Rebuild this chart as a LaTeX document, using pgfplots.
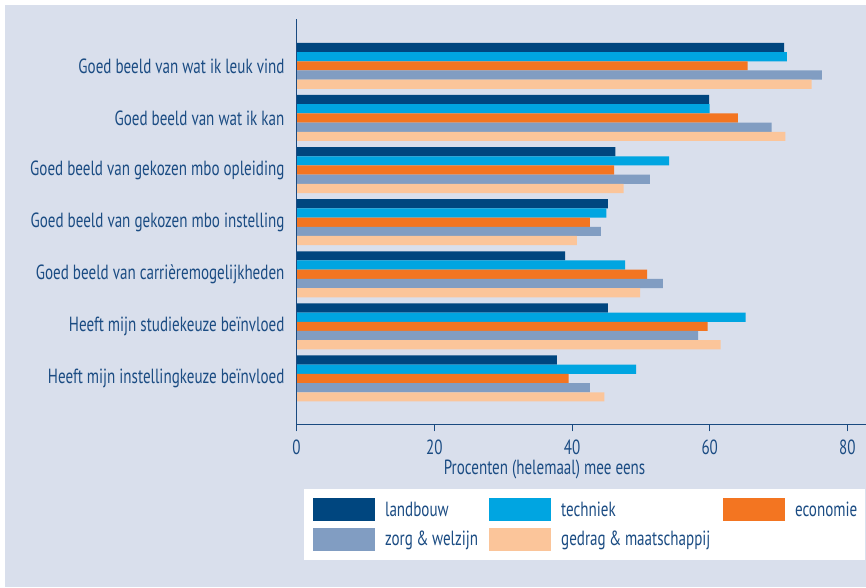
\documentclass[border=0pt]{standalone}
\usepackage{fontspec}
\setmainfont{PT Sans}[FakeStretch=0.735]
\usepackage{pgfplots}
\pgfplotsset{compat=1.18}
\definecolor{clandbouw}{HTML}{00467F}
\definecolor{ctechniek}{HTML}{00A5E1}
\definecolor{ceconomie}{HTML}{F37521}
\definecolor{czorg}{HTML}{819DC2}
\definecolor{cgedrag}{HTML}{FBC59A}
\definecolor{bgcol}{HTML}{D9DFEC}
\definecolor{gridcol}{HTML}{D3DAEA}
\definecolor{txtcol}{HTML}{1B4C83}
\definecolor{axcol}{HTML}{1A4A80}
\newcommand\cf{\fontsize{20.5pt}{23pt}\selectfont}
\pgfplotsset{
  layers/mylayers/.define layer set={axis background,axis grid,main,axis ticks,axis lines,axis tick labels,axis descriptions,axis foreground}{/pgfplots/layers/standard},
}
\begin{document}
\begin{tikzpicture}
\fill[white] (0,0) rectangle (866pt,587pt);
\fill[bgcol] (5pt,0) rectangle (866pt,582pt);
\begin{axis}[
  set layers=mylayers,
  at={(296.6pt,162.7pt)}, anchor=south west,
  scale only axis, width=569.4pt, height=405.3pt,
  xmin=0, xmax=82.7, ymin=-0.88, ymax=6.9,
  axis background/.style={fill=white},
  xbar, bar width=9.2pt,
  axis x line*=bottom, axis y line*=left,
  axis line style={draw=axcol, line width=1pt, -},
  xtick={0,20,40,60,80},
  ytick={0,1,2,3,4,5,6},
  yticklabels={Heeft mijn instellingkeuze beïnvloed, Heeft mijn studiekeuze beïnvloed, Goed beeld van carrièremogelijkheden, Goed beeld van gekozen mbo instelling, Goed beeld van gekozen mbo opleiding, Goed beeld van wat ik kan, Goed beeld van wat ik leuk vind},
  tick align=outside,
  major tick length=7pt,
  xtick style={draw=axcol, line width=1pt},
  ytick style={draw=none},
  xmajorgrids, grid style={draw=gridcol, line width=2pt},
  tick label style={font=\cf, text=txtcol},
  /pgf/number format/assume math mode=true,
  yticklabel style={anchor=east, inner sep=0pt, xshift=-5pt},
  xticklabel style={inner sep=0pt, yshift=-8pt},
  xlabel={Procenten (helemaal) mee eens},
  xlabel style={at={(axis description cs:0.4354,0)}, anchor=north, yshift=-35pt, font=\cf, text=txtcol, inner sep=0pt},
  legend columns=3,
  legend style={
    at={(axis description cs:0.0123,-0.1596)}, anchor=north west,
    draw=none, fill=white,
    inner xsep=9.5pt, inner ysep=9pt,
    row sep=6.5pt,
    nodes={inner sep=0pt, font=\cf, text=txtcol},
    /tikz/every odd column/.style={column sep=9.8pt},
    /tikz/column 2/.style={text width=104.3pt, align=left},
    /tikz/column 4/.style={text width=162pt, align=left},
    /tikz/column 6/.style={text width=60pt, align=left},
    cells={anchor=west},
  },
  legend image code/.code={\fill[#1] (0pt,-11.5pt) rectangle (62pt,11.5pt);},
]
\addplot[fill=clandbouw, draw=none, bar shift=18.4pt] coordinates {(70.8,6) (59.9,5) (46.3,4) (45.2,3) (39.0,2) (45.2,1) (37.8,0)};
\addplot[fill=ctechniek, draw=none, bar shift=9.2pt] coordinates {(71.2,6) (60.0,5) (54.1,4) (45.0,3) (47.7,2) (65.2,1) (49.3,0)};
\addplot[fill=ceconomie, draw=none, bar shift=0pt] coordinates {(65.5,6) (64.1,5) (46.1,4) (42.6,3) (50.9,2) (59.7,1) (39.5,0)};
\addplot[fill=czorg, draw=none, bar shift=-9.2pt] coordinates {(76.3,6) (69.0,5) (51.3,4) (44.2,3) (53.2,2) (58.3,1) (42.6,0)};
\addplot[fill=cgedrag, draw=none, bar shift=-18.4pt] coordinates {(74.8,6) (71.0,5) (47.5,4) (40.7,3) (49.9,2) (61.6,1) (44.7,0)};
\legend{landbouw, techniek, economie, zorg\hspace{3.5pt}\&\hspace{3.5pt}welzijn, gedrag\hspace{3.5pt}\&\hspace{3.5pt}maatschappij}
\end{axis}
\pgfresetboundingbox
\path[use as bounding box] (0,0) rectangle (866pt,587pt);
\end{tikzpicture}
\end{document}
